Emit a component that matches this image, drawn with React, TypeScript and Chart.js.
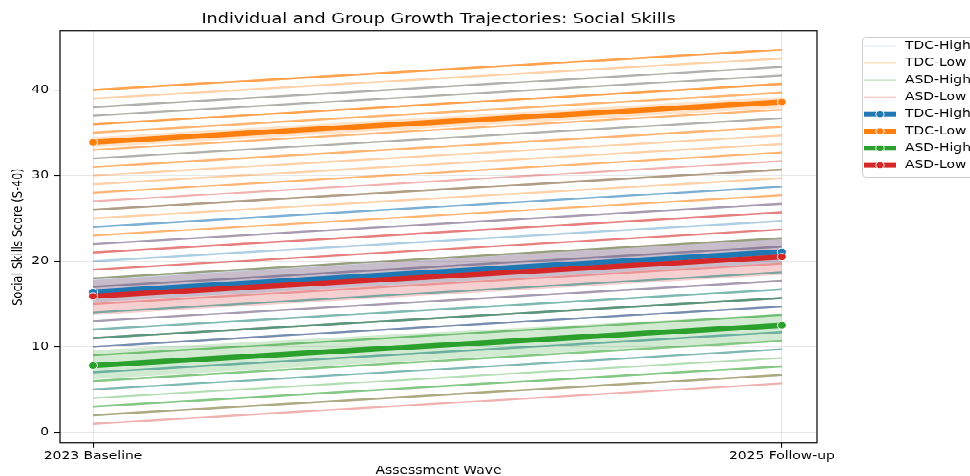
import { useEffect, useRef } from "react";
import { Chart, registerables } from "chart.js";

Chart.register(...registerables);

// Assessment waves on the x axis
const waves = ["2023 Baseline", "2025 Follow-up"];
const groups = ["TDC-High", "TDC-Low", "ASD-High", "ASD-Low"];
const groupColors = ["#1f77b4", "#ff7f0e", "#2ca02c", "#d62728"];
const yTicks = [0, 10, 20, 30, 40];

// Individual trajectories (baseline -> follow-up), one entry per child
const tdcHighBaseline = [38, 37, 32, 26, 24, 24, 22, 20, 17, 14, 13, 12, 11, 10, 10, 7, 5];
const tdcHighFollowup = [42.7, 41.7, 36.7, 30.7, 28.7, 28.7, 26.7, 24.7, 21.7, 18.7, 17.7, 16.7, 15.7, 14.7, 14.7, 11.7, 9.7];

const tdcLowBaseline = [40, 40, 40, 39, 38, 37, 36, 36, 36, 35, 35, 34, 34, 33, 33, 32, 31, 31, 30, 29, 28, 28, 26, 26, 25, 23, 23];
const tdcLowFollowup = [44.7, 44.7, 44.7, 43.7, 42.7, 41.7, 40.7, 40.7, 40.7, 39.7, 39.7, 38.7, 38.7, 37.7, 37.7, 36.7, 35.7, 35.7, 34.7, 33.7, 32.7, 32.7, 30.7, 30.7, 29.7, 27.7, 27.7];

const asdHighBaseline = [18, 14, 12, 11, 11, 9, 9, 8, 7, 6, 6, 5, 4, 3, 3, 2];
const asdHighFollowup = [22.7, 18.7, 16.7, 15.7, 15.7, 13.7, 13.7, 12.7, 11.7, 10.7, 10.7, 9.7, 8.7, 7.7, 7.7, 6.7];

const asdLowBaseline = [27, 22, 21, 21, 19, 19, 18, 17, 16, 15, 13, 11, 10, 2, 1];
const asdLowFollowup = [31.7, 26.7, 25.7, 25.7, 23.7, 23.7, 22.7, 21.7, 20.7, 19.7, 17.7, 15.7, 14.7, 6.7, 5.7];

// Group means and 95% confidence bands, in the order of `groups`
const meanBaseline = [16.4, 33.9, 7.8, 15.9];
const meanFollowup = [21.1, 38.6, 12.5, 20.5];
const ciLowBaseline = [15.2, 33.3, 6.2, 13.7];
const ciHighBaseline = [18.1, 34.5, 9.6, 17.8];
const ciLowFollowup = [19.8, 37.9, 10.8, 18.4];
const ciHighFollowup = [22.8, 39.2, 13.8, 22.6];

const baselines = [tdcHighBaseline, tdcLowBaseline, asdHighBaseline, asdLowBaseline];
const followups = [tdcHighFollowup, tdcLowFollowup, asdHighFollowup, asdLowFollowup];

const FONT = "'DejaVu Sans', 'Liberation Sans', sans-serif";
const W = 970;
const H = 595;

function rgba(hex: string, a: number) {
  const n = parseInt(hex.slice(1), 16);
  return `rgba(${(n >> 16) & 255},${(n >> 8) & 255},${n & 255},${a})`;
}

const titlePlugin = {
  id: "centeredTitle",
  afterDraw(chart: any) {
    const { ctx, chartArea } = chart;
    ctx.save();
    ctx.font = `17.6px ${FONT}`;
    ctx.fillStyle = "#000";
    ctx.textAlign = "center";
    ctx.textBaseline = "middle";
    ctx.fillText(
      "Individual and Group Growth Trajectories: Social Skills",
      (chartArea.left + chartArea.right) / 2,
      24.5
    );
    ctx.restore();
  },
};

const framePlugin = {
  id: "axesFrame",
  afterDatasetsDraw(chart: any) {
    const { ctx, chartArea } = chart;
    ctx.save();
    ctx.strokeStyle = "#000";
    ctx.lineWidth = 1.2;
    ctx.strokeRect(chartArea.left, chartArea.top, chartArea.right - chartArea.left, chartArea.bottom - chartArea.top);
    ctx.restore();
  },
};

const legendPlugin = {
  id: "sideLegend",
  afterDraw(chart: any) {
    const { ctx } = chart;
    ctx.save();
    ctx.fillStyle = "rgba(255,255,255,0.8)";
    ctx.strokeStyle = "#cccccc";
    ctx.lineWidth = 1;
    ctx.beginPath();
    ctx.roundRect(862.5, 46.5, 130, 175, 4);
    ctx.fill();
    ctx.stroke();

    ctx.font = `13.9px ${FONT}`;
    ctx.textBaseline = "middle";
    ctx.textAlign = "left";
    const y0 = 57.5;
    const dy = 21.3;
    const entries = [...groups.map((g, i) => ({ g, i, mean: false })), ...groups.map((g, i) => ({ g, i, mean: true }))];
    entries.forEach((e, k) => {
      const y = y0 + k * dy;
      const c = groupColors[e.i];
      ctx.beginPath();
      ctx.moveTo(864, y);
      ctx.lineTo(896, y);
      if (e.mean) {
        ctx.strokeStyle = c;
        ctx.lineWidth = 6;
      } else {
        ctx.strokeStyle = rgba(c, 0.25);
        ctx.lineWidth = 1.6;
      }
      ctx.stroke();
      if (e.mean) {
        ctx.beginPath();
        ctx.arc(880, y, 4.2, 0, Math.PI * 2);
        ctx.fillStyle = c;
        ctx.fill();
        ctx.strokeStyle = "#fff";
        ctx.lineWidth = 1;
        ctx.stroke();
      }
      ctx.fillStyle = "#000";
      ctx.fillText(e.g, 905, y);
    });
    ctx.restore();
  },
};

function buildDatasets() {
  const ds: any[] = [];
  // confidence bands: lower edge then upper edge filled down to it
  groups.forEach((g, i) => {
    const lowerIndex = ds.length;
    ds.push({
      label: `${g} CI low`,
      data: [
        { x: 0, y: ciLowBaseline[i] },
        { x: 1, y: ciLowFollowup[i] },
      ],
      borderColor: "transparent",
      borderWidth: 1,
      pointRadius: 0,
      fill: false,
      order: 4,
    });
    ds.push({
      label: `${g} CI high`,
      data: [
        { x: 0, y: ciHighBaseline[i] },
        { x: 1, y: ciHighFollowup[i] },
      ],
      borderColor: "transparent",
      borderWidth: 1,
      pointRadius: 0,
      backgroundColor: rgba(groupColors[i], 0.22),
      fill: { target: lowerIndex },
      order: 4,
    });
  });
  // individual children
  groups.forEach((g, i) => {
    baselines[i].forEach((b, k) => {
      ds.push({
        label: g,
        data: [
          { x: 0, y: b },
          { x: 1, y: followups[i][k] },
        ],
        borderColor: rgba(groupColors[i], 0.36),
        borderWidth: 2.4,
        pointRadius: 0,
        fill: false,
        order: 3,
      });
    });
  });
  // group means with end markers
  groups.forEach((g, i) => {
    ds.push({
      label: g,
      data: [
        { x: 0, y: meanBaseline[i] },
        { x: 1, y: meanFollowup[i] },
      ],
      borderColor: groupColors[i],
      backgroundColor: groupColors[i],
      borderWidth: 6.5,
      pointRadius: 4.5,
      pointBackgroundColor: groupColors[i],
      pointBorderColor: "#fff",
      pointBorderWidth: 1,
      fill: false,
      order: 1.4 - i * 0.1,
    });
  });
  return ds;
}

export default function App() {
  const ref = useRef<HTMLCanvasElement>(null);

  useEffect(() => {
    const canvas = ref.current;
    if (!canvas) return;
    Chart.defaults.font.family = FONT;
    Chart.defaults.color = "#000";
    const gridColor = "rgba(176,176,176,0.3)";
    const chart = new Chart(canvas, {
      type: "line",
      data: { datasets: buildDatasets() },
      options: {
        responsive: false,
        devicePixelRatio: 1,
        animation: false,
        layout: { padding: { top: 38.75, right: 153, left: 0, bottom: 0 } },
        plugins: {
          legend: { display: false },
          tooltip: { enabled: false },
          title: { display: false },
        },
        scales: {
          x: {
            type: "linear",
            min: -0.048,
            max: 1.051,
            afterBuildTicks: (scale: any) => {
              scale.ticks = waves.map((_, i) => ({ value: i }));
            },
            afterFit: (scale: any) => {
              scale.height = 41.25;
            },
            ticks: {
              callback: (v: any) => waves[v] ?? "",
              font: { size: 13.9 },
              color: "#000",
              padding: 2,
              maxRotation: 0,
            },
            grid: { color: gridColor, lineWidth: 1.1, tickColor: "#000", tickLength: 6 },
            border: { display: false },
            title: {
              display: true,
              text: "Assessment Wave",
              font: { size: 13.9 },
              color: "#000",
              padding: { top: 0, bottom: -2 },
            },
          },
          y: {
            type: "linear",
            min: -1.25,
            max: 46.9,
            afterBuildTicks: (scale: any) => {
              scale.ticks = yTicks.map((v) => ({ value: v }));
            },
            afterFit: (scale: any) => {
              scale.width = 60;
            },
            ticks: { font: { size: 13.9 }, color: "#000", padding: 5 },
            grid: { color: gridColor, lineWidth: 1.1, tickColor: "#000", tickLength: 6 },
            border: { display: false },
            title: {
              display: true,
              text: "Social Skills Score (S-40)",
              font: { size: 13.9 },
              color: "#000",
              padding: { top: 10, bottom: 0 },
            },
          },
        },
      },
      plugins: [titlePlugin, framePlugin, legendPlugin],
    } as any);
    return () => chart.destroy();
  }, []);

  return (
    <div
      style={{
        position: "fixed",
        left: 0,
        top: 0,
        width: W,
        height: H,
        background: "#fff",
        transform: "scaleY(0.8)",
        transformOrigin: "0 0",
      }}
    >
      <canvas ref={ref} width={W} height={H} style={{ display: "block", width: W, height: H }} />
    </div>
  );
}
